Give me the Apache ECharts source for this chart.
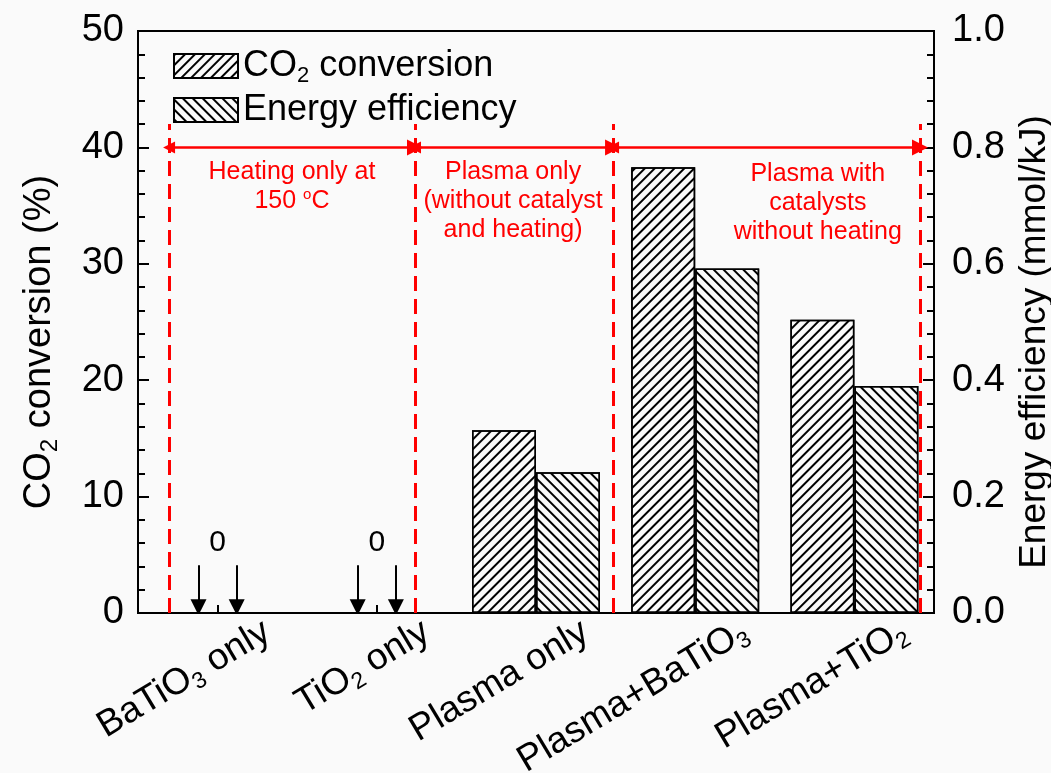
<!DOCTYPE html>
<html><head><meta charset="utf-8">
<script src="https://cdn.jsdelivr.net/npm/echarts@6/dist/echarts.min.js"></script>
<style>html,body{margin:0;padding:0;background:#fafafa}#c{width:1051px;height:773px}</style>
</head><body><div id="c"></div>
<script>
// ---- data ----
const categories = ['{a|BaTiO}{s|3}{a| only}', '{a|TiO}{s|2}{a| only}', '{a|Plasma only}', '{a|Plasma+BaTiO}{s|3}', '{a|Plasma+TiO}{s|2}'];
const co2Conversion = [0, 0, 15.7, 38.3, 25.2];          // %
const energyEfficiency = [0, 0, 0.242, 0.592, 0.39];    // mmol/kJ
const seriesNames = ['CO2 conversion', 'Energy efficiency'];
const legendLabels = ['{a|CO}{s|2}{a| conversion}', '{a|Energy efficiency}'];
const leftAxisName = '{a|CO}{s|2}{a| conversion (%)}';
const rightAxisName = 'Energy efficiency (mmol/kJ)';
// annotation positions in category units (x) and left-axis units (y)
const separatorX = [-0.305, 1.24, 2.484, 4.412];
const separatorTop = 42;
const spanY = 40;
const zeroLabelX = [0, 1];
const zeroLabelY = 6;
const zeroArrowX = [-0.12, 0.12, 0.88, 1.12];
const zeroArrowTop = 4.1;
const zeroArrowBottom = 0.5;
const noteX = [0.467, 1.856, 3.77];
const noteY = [36.6, 35.4, 35.2];
const noteText = [
  '{r|Heating only at}\n{r|150 }{sup|o}{r|C}',
  '{r|Plasma only}\n{r|(without catalyst}\n{r|and heating)}',
  '{r|Plasma with}\n{r|catalysts}\n{r|without heating}'
];

const FONT = 'Liberation Sans, Arial, sans-serif';
const BG = '#fafafa';
const hatch = rot => ({symbol: 'rect', symbolSize: 1, color: '#000', dashArrayX: [1, 0], dashArrayY: [1.6, 5], rotation: rot});

const chart = echarts.init(document.getElementById('c'), null, {renderer: 'canvas'});

const sepLines = separatorX.map(x => ({coords: [[x, 0], [x, separatorTop]]}));
const spanLines = [];
for (let i = 0; i < separatorX.length - 1; i++) {
  spanLines.push({coords: [[separatorX[i], spanY], [separatorX[i + 1], spanY]]});
}
const zeroArrows = zeroArrowX.map(x => ({coords: [[x, zeroArrowTop], [x, zeroArrowBottom]]}));

const labelRich = size => ({
  a: {fontSize: size, fontFamily: FONT, color: '#000', lineHeight: size + 6},
  s: {fontSize: Math.round(size * 0.62), fontFamily: FONT, color: '#000', lineHeight: Math.round(size * 0.65), verticalAlign: 'bottom'}
});

chart.setOption({
  backgroundColor: BG,
  animation: false,
  textStyle: {fontFamily: FONT},
  grid: {left: 138, right: 117, top: 31, bottom: 160, show: true, borderColor: '#000', borderWidth: 2,
    backgroundColor: 'transparent', containLabel: false, outerBoundsMode: 'none'},
  legend: {
    orient: 'vertical', left: 168, top: 43, itemWidth: 64, itemHeight: 24, itemGap: 5,
    icon: 'rect', data: seriesNames,
    formatter: n => legendLabels[seriesNames.indexOf(n)],
    textStyle: {rich: labelRich(36)}
  },
  xAxis: [{
    type: 'category', data: categories,
    axisLine: {onZero: false, lineStyle: {color: '#000', width: 2}},
    axisTick: {show: true, interval: 0, alignWithLabel: true, inside: true, length: 8, lineStyle: {color: '#000', width: 2}},
    axisLabel: {rotate: 31, margin: 46, interval: 0, align: 'right', padding: [0, -58, 0, 0], rich: labelRich(37)}
  }, {
    type: 'value', min: -0.5, max: 4.5, show: false
  }],
  yAxis: [{
    type: 'value', min: 0, max: 50, interval: 10, position: 'left',
    name: leftAxisName, nameLocation: 'middle', nameGap: 76, nameRotate: 90,
    nameTextStyle: {padding: [0, 40, 0, 0], rich: labelRich(38)},
    axisLine: {show: true, onZero: false, lineStyle: {color: '#000', width: 2}},
    axisTick: {inside: true, length: 11, lineStyle: {color: '#000', width: 2}},
    minorTick: {show: true, splitNumber: 5, length: 7, lineStyle: {color: '#000', width: 2}},
    splitLine: {show: false},
    axisLabel: {fontSize: 38, color: '#000', margin: 14, fontFamily: FONT}
  }, {
    type: 'value', min: 0, max: 1, interval: 0.2, position: 'right',
    name: rightAxisName, nameLocation: 'middle', nameGap: 82, nameRotate: 90,
    nameTextStyle: {fontSize: 37, color: '#000', fontFamily: FONT, padding: [0, 40, 0, 0]},
    axisLine: {show: true, onZero: false, lineStyle: {color: '#000', width: 2}},
    axisTick: {inside: true, length: 11, lineStyle: {color: '#000', width: 2}},
    minorTick: {show: true, splitNumber: 5, length: 7, lineStyle: {color: '#000', width: 2}},
    splitLine: {show: false},
    axisLabel: {fontSize: 38, color: '#000', margin: 18, fontFamily: FONT, formatter: v => v.toFixed(1)}
  }],
  series: [
    {
      name: seriesNames[0], type: 'bar', xAxisIndex: 0, yAxisIndex: 0, data: co2Conversion,
      barWidth: 64, barGap: '0%',
      itemStyle: {color: BG, borderColor: '#000', borderWidth: 1.5, decal: hatch(-Math.PI / 4)}
    },
    {
      name: seriesNames[1], type: 'bar', xAxisIndex: 0, yAxisIndex: 1, data: energyEfficiency,
      barWidth: 64, barGap: '0%',
      itemStyle: {color: BG, borderColor: '#000', borderWidth: 1.5, decal: hatch(Math.PI / 4)}
    },
    {
      type: 'lines', coordinateSystem: 'cartesian2d', xAxisIndex: 1, yAxisIndex: 0, silent: true, z: 5,
      symbol: ['none', 'none'],
      lineStyle: {color: '#ff0000', width: 3, type: [15, 8], opacity: 1},
      data: sepLines
    },
    {
      type: 'lines', coordinateSystem: 'cartesian2d', xAxisIndex: 1, yAxisIndex: 0, silent: true, z: 5,
      symbol: ['triangle', 'triangle'], symbolSize: [12, 16],
      lineStyle: {color: '#ff0000', width: 2.5, type: 'solid', opacity: 1},
      data: spanLines
    },
    {
      type: 'lines', coordinateSystem: 'cartesian2d', xAxisIndex: 1, yAxisIndex: 0, silent: true, z: 5,
      symbol: ['none', 'triangle'], symbolSize: [8, 16],
      lineStyle: {color: '#000', width: 2, type: 'solid', opacity: 1},
      data: zeroArrows
    },
    {
      type: 'scatter', xAxisIndex: 1, yAxisIndex: 0, symbolSize: 0, silent: true, z: 6,
      itemStyle: {opacity: 1},
      data: zeroLabelX.map(x => [x, zeroLabelY]),
      label: {show: true, position: 'inside', formatter: '0', fontSize: 30, color: '#000', fontFamily: FONT, textBorderWidth: 0, opacity: 1}
    },
    {
      type: 'scatter', xAxisIndex: 1, yAxisIndex: 0, symbolSize: 0, silent: true, z: 6,
      itemStyle: {opacity: 1},
      data: noteX.map((x, i) => ({value: [x, noteY[i]], name: noteText[i]})),
      label: {show: true, position: 'inside', formatter: p => p.name, align: 'center', textBorderWidth: 0, opacity: 1,
        rich: {
          r: {fontSize: 25, color: '#ff0000', fontFamily: FONT, lineHeight: 29, align: 'center'},
          sup: {fontSize: 15, color: '#ff0000', fontFamily: FONT, verticalAlign: 'top'}
        }}
    }
  ]
});
</script>
</body></html>
